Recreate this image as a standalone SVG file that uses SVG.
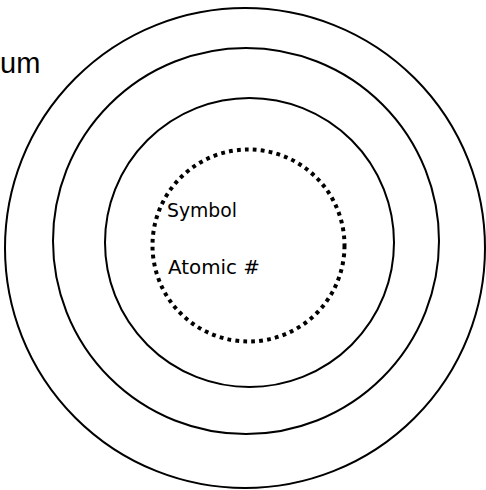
<svg xmlns="http://www.w3.org/2000/svg" width="486" height="490" viewBox="0 0 486 490">
<style>
.shell{fill:none;stroke:#000;stroke-width:2}
.nucleus{fill:none;stroke:#000;stroke-width:4;stroke-dasharray:3.8 4.2}
.lbl{font-family:"Comic Sans MS","DejaVu Sans","Liberation Sans",sans-serif;font-size:19px;fill:#000}
.title{font-family:"Liberation Sans",Arial,sans-serif;font-size:29px;fill:#000}
</style>
<rect width="486" height="490" fill="#fff"/>
<g id="title"><text class="title" x="0" y="73">um</text></g>
<g id="shell3"><circle class="shell" cx="245" cy="248" r="240"/></g>
<g id="shell2"><circle class="shell" cx="246" cy="241" r="193"/></g>
<g id="shell1"><circle class="shell" cx="249.5" cy="242.5" r="144.5"/></g>
<g id="nucleus">
<circle class="nucleus" cx="248.5" cy="245.5" r="96"/>
<text class="lbl" x="167" y="217" textLength="70" lengthAdjust="spacingAndGlyphs">Symbol</text>
<text class="lbl" x="168" y="274" textLength="92" lengthAdjust="spacingAndGlyphs">Atomic #</text>
</g>
<g id="connectors"/>
</svg>
